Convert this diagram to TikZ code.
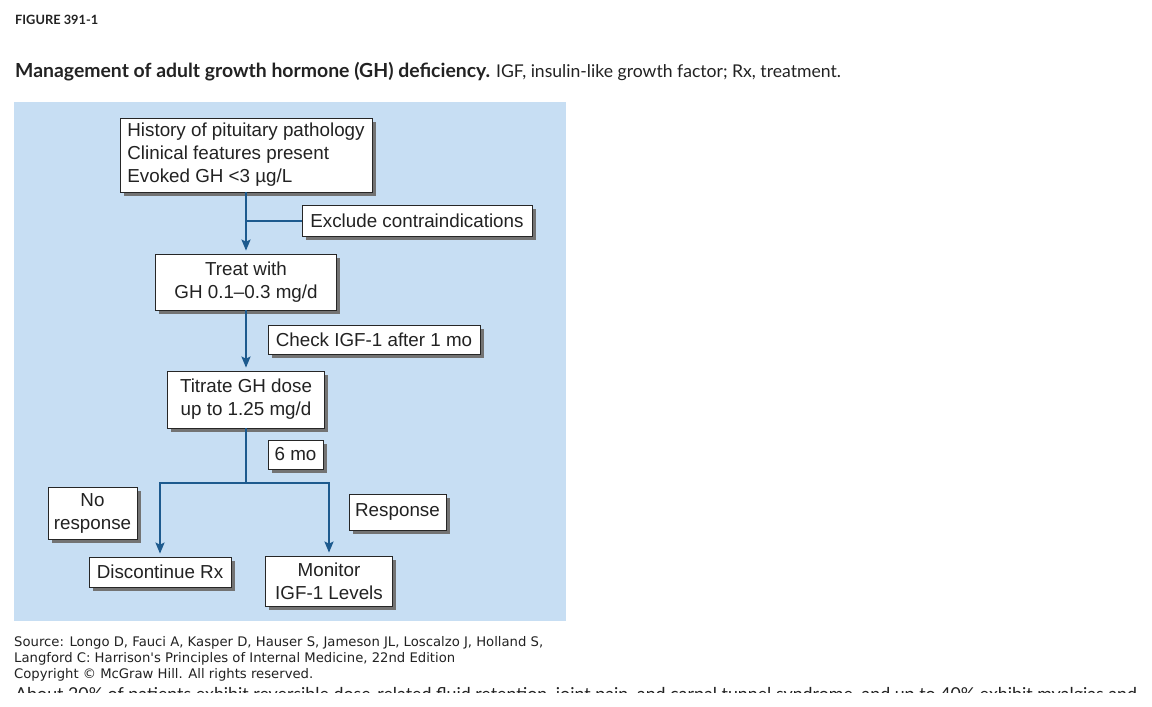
\documentclass[tikz,border=0pt]{standalone}
\usepackage{fontspec}
\setmainfont{Liberation Sans}
\newfontfamily\titlefont{Lato}
\newfontfamily\srcfont{DejaVu Sans}
\usetikzlibrary{arrows.meta,shadows}
\definecolor{panel}{HTML}{C7DEF3}
\definecolor{lineblue}{HTML}{1D5A8E}
\definecolor{txt}{HTML}{222222}
\tikzset{
  box/.style={draw=black!85, line width=0.8pt, fill=white, inner sep=0pt, align=center,
    font=\fontsize{18.8}{23}\selectfont, text=txt,
    drop shadow={shadow xshift=3.5pt, shadow yshift=-3.5pt, fill=black!55, opacity=1}},
  conn/.style={draw=lineblue, line width=2pt},
  arr/.style={conn, -{Stealth[length=11pt,width=9pt,inset=2pt]}, shorten >=3pt},
  plain/.style={anchor=base west, inner sep=0pt, text=txt},
}
\begin{document}
\begin{tikzpicture}[x=1pt,y=-1pt]
\useasboundingbox (0,0) rectangle (1152,707);
\fill[white] (0,0) rectangle (1152,707);
% header
\node[plain, font=\titlefont\bfseries\fontsize{12.8}{14}\selectfont] (fig) at (15,24) {FIGURE 391-1};
\node[plain, font=\titlefont\fontsize{17.6}{20}\selectfont] (title) at (15,77)
  {{\fontsize{19.4}{20}\selectfont\bfseries Management of adult growth hormone (GH) deficiency.} IGF, insulin-like growth factor; Rx, treatment.};
% panel
\fill[panel] (14,102) rectangle (566,621);
% boxes
\node[box, minimum width=252pt, minimum height=74pt] (b1) at (246,155)
  {\raisebox{-3pt}{\begin{tabular}{@{}l@{}}History of pituitary pathology\\Clinical features present\\Evoked GH <3 \textmu g/L\end{tabular}}};
\node[box, minimum width=230pt, minimum height=31pt] (excl) at (417,220.5) {Exclude contraindications};
\node[box, minimum width=181pt, minimum height=56pt] (treat) at (246,282) {Treat with\\GH 0.1--0.3 mg/d};
\node[box, minimum width=212pt, minimum height=29pt] (check) at (374,339.5) {Check IGF-1 after 1 mo};
\node[box, minimum width=157pt, minimum height=57pt] (titrate) at (246,399.5) {Titrate GH dose\\up to 1.25 mg/d};
\node[box, minimum width=55pt, minimum height=29pt] (six) at (295.5,454.5) {6 mo};
\node[box, minimum width=89pt, minimum height=52pt] (nores) at (92.5,513) {No\\response};
\node[box, minimum width=97pt, minimum height=36pt] (resp) at (397.5,512) {Response};
\node[box, minimum width=142pt, minimum height=30pt] (disc) at (160,572) {Discontinue Rx};
\node[box, minimum width=127pt, minimum height=50pt] (mon) at (329,581) {Monitor\\IGF-1 Levels};
% connectors
\coordinate (sp) at (246,483);
\draw[arr] (b1.south) -- (treat.north);
\draw[conn] (excl.west) -- (excl.west -| b1.south);
\draw[arr] (treat.south) -- (titrate.north);
\draw[conn] (titrate.south) -- (sp);
\draw[arr] (sp) -| (disc.north);
\draw[arr] (sp) -| (mon.north);
% source
\node[plain, font=\srcfont\fontsize{13.2}{16}\selectfont, anchor=north west, align=left, inner sep=0pt] (src) at (14,636)
  {Source: Longo D, Fauci A, Kasper D, Hauser S, Jameson JL, Loscalzo J, Holland S,\\
   Langford C: Harrison's Principles of Internal Medicine, 22nd Edition\\
   Copyright \textcopyright{} McGraw Hill. All rights reserved.};
\begin{scope}
\clip (0,680) rectangle (1152,692);
\node[plain, font=\titlefont\fontsize{17.8}{20}\selectfont] (cut) at (15,700)
  {About 20\% of patients exhibit reversible dose-related fluid retention, joint pain, and carpal tunnel syndrome, and up to 40\% exhibit myalgias and};
\end{scope}
\end{tikzpicture}
\end{document}
